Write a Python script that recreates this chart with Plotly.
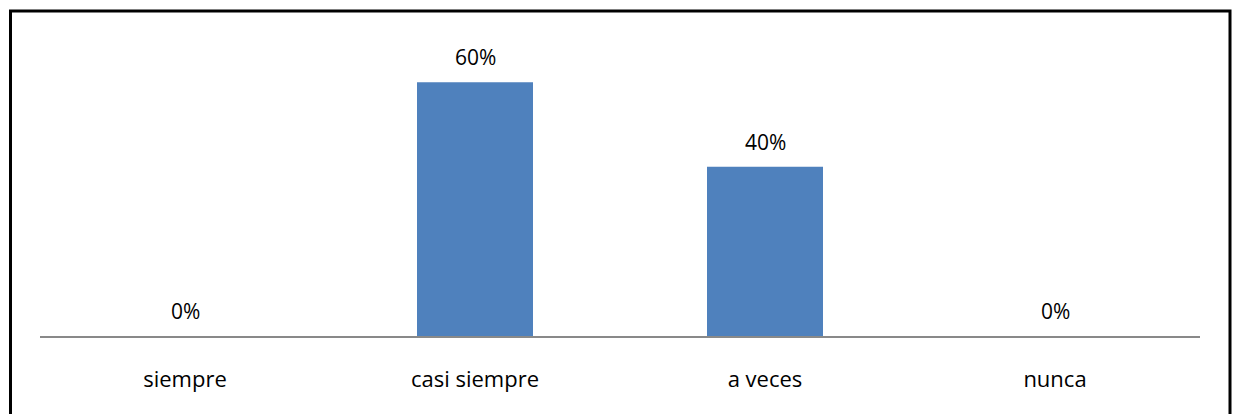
import plotly.graph_objects as go

categories = ["siempre", "casi siempre", "a veces", "nunca"]
values = [0.0, 0.60, 0.40, 0.0]

W, H = 1235, 414
ml, mr, mt, mb = 40, 35, 30, 78
plot_h = H - mt - mb
plot_w = W - ml - mr
px_per_unit = 423.0
FONT = "Open Sans"

fig = go.Figure(
    go.Bar(
        x=categories,
        y=values,
        width=0.4,
        marker=dict(color="#4F81BD", line=dict(width=0)),
        hoverinfo="skip",
    )
)

for c, v in zip(categories, values):
    fig.add_annotation(
        x=c,
        y=v,
        xref="x",
        yref="y",
        text=f"{v:.0%}",
        showarrow=False,
        yanchor="middle",
        yshift=25,
        font=dict(family=FONT, size=21, color="#000000"),
    )

def px_x(p):
    return (p - ml) / plot_w

def px_y(p):
    return (H - mb - p) / plot_h

fig.update_layout(
    width=W,
    height=H,
    margin=dict(l=ml, r=mr, t=mt, b=mb),
    plot_bgcolor="white",
    paper_bgcolor="white",
    showlegend=False,
    font=dict(family=FONT, size=22, color="#000000"),
    xaxis=dict(
        showgrid=False,
        showline=True,
        linecolor="#898989",
        linewidth=2,
        ticks="outside",
        ticklen=23,
        tickcolor="rgba(0,0,0,0)",
        tickfont=dict(family=FONT, size=22, color="#000000"),
        fixedrange=True,
    ),
    yaxis=dict(
        range=[0, plot_h / px_per_unit],
        visible=False,
        showgrid=False,
        zeroline=False,
        fixedrange=True,
    ),
    shapes=[
        dict(
            type="rect",
            xref="paper",
            yref="paper",
            x0=px_x(10.5),
            x1=px_x(1230),
            y0=px_y(420),
            y1=px_y(11),
            line=dict(color="#000000", width=3),
            fillcolor="rgba(0,0,0,0)",
            layer="above",
        )
    ],
)

fig.write_html(
    "out.html",
    config={"displayModeBar": False},
    post_script="document.body.style.margin='0';document.body.style.overflow='hidden';",
)
